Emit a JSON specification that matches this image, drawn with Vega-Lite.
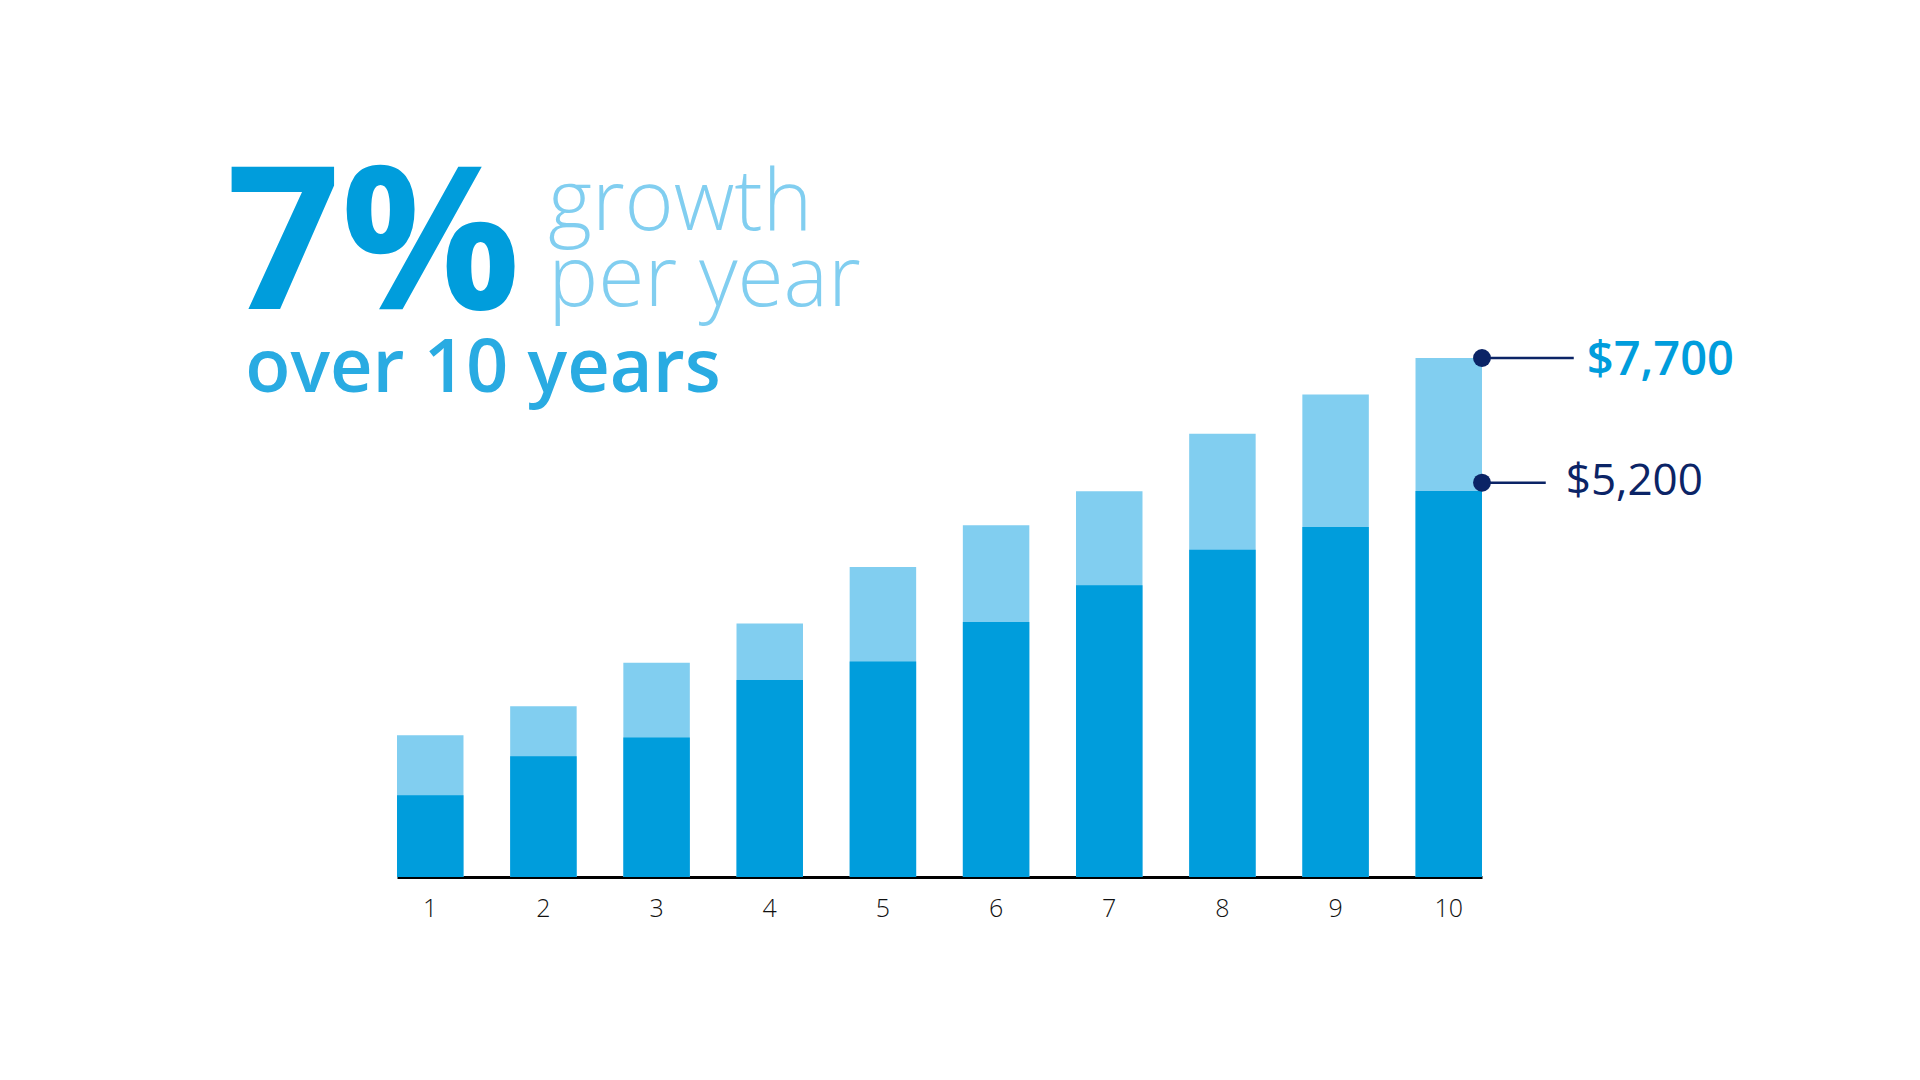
{
  "$schema": "https://vega.github.io/schema/vega-lite/v6.json",
  "width": 1085,
  "height": 519,
  "autosize": "none",
  "padding": {"left": 397, "top": 358, "right": 438, "bottom": 203},
  "background": "white",
  "config": {"view": {"stroke": null}},
  "datasets": {
    "bars": [
      {"year": 1, "dark": 1212, "total": 2102},
      {"year": 2, "dark": 1791, "total": 2532},
      {"year": 3, "dark": 2068, "total": 3179},
      {"year": 4, "dark": 2924, "total": 3761},
      {"year": 5, "dark": 3197, "total": 4599},
      {"year": 6, "dark": 3783, "total": 5218},
      {"year": 7, "dark": 4328, "total": 5722},
      {"year": 8, "dark": 4857, "total": 6578},
      {"year": 9, "dark": 5193, "total": 7158},
      {"year": 10, "dark": 5727, "total": 7700}
    ],
    "notes": [
      {"year": 10, "value": 7700, "label": "$7,700", "kind": "total"},
      {"year": 10, "value": 5850, "label": "$5,200", "kind": "base"}
    ],
    "headline": [
      {"part": "big", "text": "7%"},
      {"part": "line1", "text": "growth"},
      {"part": "line2", "text": "per year"},
      {"part": "sub", "text": "over 10 years"}
    ]
  },
  "layer": [
    {
      "data": {"name": "bars"},
      "mark": {"type": "bar", "color": "#81cef0"},
      "encoding": {
        "x": {
          "field": "year", "type": "ordinal",
          "scale": {"paddingInner": 0.4125, "paddingOuter": 0},
          "axis": {
            "title": null, "domain": true, "domainColor": "#000000", "domainWidth": 3,
            "ticks": false, "grid": false, "labelAngle": 0,
            "labelFont": "Open Sans", "labelFontWeight": 300, "labelFontSize": 25,
            "labelColor": "#111111", "labelPadding": 19
          }
        },
        "y": {"field": "total", "type": "quantitative", "scale": {"domain": [0, 7700], "nice": false}, "axis": null}
      }
    },
    {
      "data": {"name": "bars"},
      "mark": {"type": "bar", "color": "#009ddc"},
      "encoding": {
        "x": {"field": "year", "type": "ordinal"},
        "y": {"field": "dark", "type": "quantitative"}
      }
    },
    {
      "data": {"name": "notes"},
      "transform": [{"filter": "datum.kind === 'total'"}],
      "mark": {"type": "rule", "color": "#0b2466", "strokeWidth": 2.5, "xOffset": 33.25, "x2Offset": 125},
      "encoding": {
        "x": {"field": "year", "type": "ordinal"},
        "x2": {"field": "year"},
        "y": {"field": "value", "type": "quantitative"}
      }
    },
    {
      "data": {"name": "notes"},
      "transform": [{"filter": "datum.kind === 'base'"}],
      "mark": {"type": "rule", "color": "#0b2466", "strokeWidth": 2.5, "xOffset": 33.25, "x2Offset": 97},
      "encoding": {
        "x": {"field": "year", "type": "ordinal"},
        "x2": {"field": "year"},
        "y": {"field": "value", "type": "quantitative"}
      }
    },
    {
      "data": {"name": "notes"},
      "mark": {"type": "point", "filled": true, "color": "#0b2466", "size": 320, "opacity": 1, "xOffset": 33.25},
      "encoding": {
        "x": {"field": "year", "type": "ordinal"},
        "y": {"field": "value", "type": "quantitative"}
      }
    },
    {
      "data": {"name": "notes"},
      "transform": [{"filter": "datum.kind === 'total'"}],
      "mark": {"type": "text", "align": "left", "baseline": "middle", "dx": 138, "dy": 3, "font": "Open Sans", "fontWeight": 600, "fontSize": 47, "color": "#009ddc"},
      "encoding": {
        "x": {"field": "year", "type": "ordinal"},
        "y": {"field": "value", "type": "quantitative"},
        "text": {"field": "label"}
      }
    },
    {
      "data": {"name": "notes"},
      "transform": [{"filter": "datum.kind === 'base'"}],
      "mark": {"type": "text", "align": "left", "baseline": "middle", "dx": 117, "dy": -1, "font": "Open Sans", "fontWeight": 400, "fontSize": 44, "color": "#0b2466"},
      "encoding": {
        "x": {"field": "year", "type": "ordinal"},
        "y": {"field": "value", "type": "quantitative"},
        "text": {"field": "label"}
      }
    },
    {
      "data": {"name": "headline"},
      "transform": [{"filter": "datum.part === 'big'"}],
      "mark": {"type": "text", "align": "left", "baseline": "alphabetic", "dx": -204, "dy": -49, "font": "Open Sans", "fontWeight": 700, "fontSize": 200, "color": "#009ddc"},
      "encoding": {
        "x": {"datum": 1, "type": "ordinal"},
        "y": {"datum": 7700, "type": "quantitative"},
        "text": {"field": "text"}
      }
    },
    {
      "data": {"name": "headline"},
      "transform": [{"filter": "datum.part === 'line1'"}],
      "mark": {"type": "text", "align": "left", "baseline": "alphabetic", "dx": 118, "dy": -128, "font": "Open Sans", "fontWeight": 300, "fontSize": 84, "color": "#81cef0"},
      "encoding": {
        "x": {"datum": 1, "type": "ordinal"},
        "y": {"datum": 7700, "type": "quantitative"},
        "text": {"field": "text"}
      }
    },
    {
      "data": {"name": "headline"},
      "transform": [{"filter": "datum.part === 'line2'"}],
      "mark": {"type": "text", "align": "left", "baseline": "alphabetic", "dx": 118, "dy": -52, "font": "Open Sans", "fontWeight": 300, "fontSize": 84, "color": "#81cef0"},
      "encoding": {
        "x": {"datum": 1, "type": "ordinal"},
        "y": {"datum": 7700, "type": "quantitative"},
        "text": {"field": "text"}
      }
    },
    {
      "data": {"name": "headline"},
      "transform": [{"filter": "datum.part === 'sub'"}],
      "mark": {"type": "text", "align": "left", "baseline": "alphabetic", "dx": -185, "dy": 34, "font": "Open Sans", "fontWeight": 600, "fontSize": 74, "color": "#29abe2"},
      "encoding": {
        "x": {"datum": 1, "type": "ordinal"},
        "y": {"datum": 7700, "type": "quantitative"},
        "text": {"field": "text"}
      }
    }
  ]
}
